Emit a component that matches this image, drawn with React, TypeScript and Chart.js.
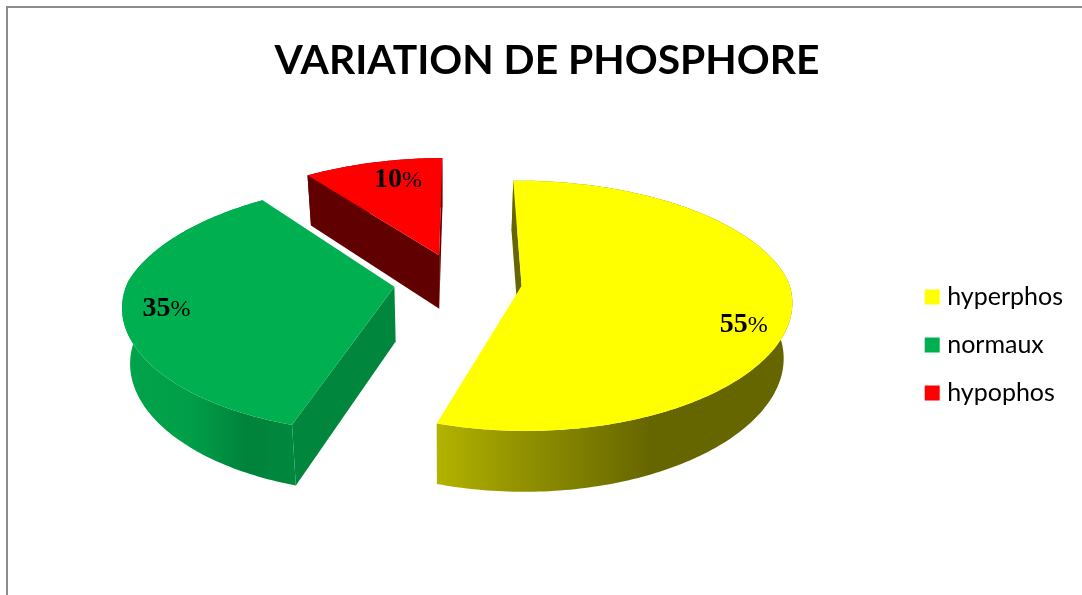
import React, { useEffect, useRef } from "react";
import { Chart, registerables } from "chart.js";

Chart.register(...registerables);

const TITLE = "VARIATION DE PHOSPHORE";
const categories = ["hyperphos", "normaux", "hypophos"];
const values = [55, 35, 10];
const sliceColors = ["#FFFF00", "#00B050", "#FF0000"];

// Shade of the radial wall of each slice, and of the round wall from left to right
const faceShades = [0.4, 0.76, 0.38];
const wallShades = [
  [[0, 0.7], [0.22, 0.58], [0.6, 0.4], [1, 0.4]],
  [[0, 0.93], [0.4, 0.9], [0.72, 0.74], [1, 0.78]],
  [[0, 0.38], [1, 0.38]],
];
const labelRadius = [0.845, 0.84, 0.8];
const labelTurn = [12, -1.3, 4.2];

// 3D view of the pie plane
const VIEW = {
  cx: 0.4233, cy: 0.4733, a: 267, b: 120.6,
  vanish: 33, kFar: 0.165, kNear: 0.125, kY: 0.16,
  explode: 0.24, depthCx: 0.4113, depthScale: 0.975,
};

const shade = (hex: string, m: number) => {
  const n = parseInt(hex.slice(1), 16);
  const c = [(n >> 16) & 255, (n >> 8) & 255, n & 255].map((v) => Math.round(v * m));
  return `rgb(${c[0]},${c[1]},${c[2]})`;
};

const pie3d = {
  id: "pie3d",
  beforeDatasetsDraw(chart: any) {
    const ctx = chart.ctx as CanvasRenderingContext2D;
    const meta = chart.getDatasetMeta(0);
    const Xc = chart.width * VIEW.cx;
    const Yc = chart.height * VIEW.cy;
    type P = [number, number];
    meta.data.forEach((el: any, i: number) => {
      const { startAngle, endAngle } = el.getProps(["startAngle", "endAngle"], true);
      const color = sliceColors[i];
      const mid = (startAngle + endAngle) / 2;
      const ox = Math.cos(mid) * VIEW.explode;
      const oy = Math.sin(mid) * VIEW.explode;
      const project = (r: number, t: number): P => {
        const wx = ox + r * Math.cos(t);
        const wy = oy + r * Math.sin(t);
        const wX = 1 - (wy < 0 ? VIEW.kFar : VIEW.kNear) * wy;
        const wY = 1 - VIEW.kY * wy;
        return [Xc + VIEW.vanish + (-VIEW.vanish + VIEW.a * wx) / wX, Yc + (VIEW.b * wy) / wY];
      };
      const depthX = chart.width * VIEW.depthCx;
      const lower = (p: P): P => [depthX + (p[0] - depthX) * VIEW.depthScale, p[1] + 50 + (p[1] - 172) * 0.042];
      const steps = Math.max(8, Math.ceil(((endAngle - startAngle) * 180) / Math.PI));
      const rim: P[] = [];
      for (let s = 0; s <= steps; s++) rim.push(project(1, startAngle + ((endAngle - startAngle) * s) / steps));
      const apex = project(0, 0);
      const path = (pts: P[]) => {
        ctx.beginPath();
        pts.forEach((p, j) => (j ? ctx.lineTo(p[0], p[1]) : ctx.moveTo(p[0], p[1])));
        ctx.closePath();
      };
      const area = (q: P[]) =>
        q.reduce((acc, p, j) => {
          const n = q[(j + 1) % q.length];
          return acc + p[0] * n[1] - n[0] * p[1];
        }, 0);

      // round wall
      const low = rim.map(lower);
      const xs = rim.concat(low).map((p) => p[0]);
      const minX = Math.min(...xs);
      const maxX = Math.max(...xs);
      const grad = ctx.createLinearGradient(minX, 0, maxX, 0);
      wallShades[i].forEach(([pos, m]) => grad.addColorStop(pos, shade(color, m)));
      ctx.fillStyle = grad;
      path(rim.concat(low.slice().reverse()));
      ctx.fill();

      // radial walls, only when they face the viewer
      const first = rim[0];
      const last = rim[rim.length - 1];
      const startFace = [apex, first, lower(first), lower(apex)];
      const endFace = [apex, last, lower(last), lower(apex)];
      ctx.fillStyle = shade(color, faceShades[i]);
      if (area(startFace) < 0) {
        path(startFace);
        ctx.fill();
      }
      if (area(endFace) > 0) {
        path(endFace);
        ctx.fill();
      }

      // top face
      ctx.fillStyle = color;
      path([apex, ...rim]);
      ctx.fill();

      // data label
      const [lx, ly] = project(labelRadius[i], mid + (labelTurn[i] * Math.PI) / 180);
      const num = String(values[i]);
      ctx.fillStyle = "#000";
      ctx.textBaseline = "alphabetic";
      ctx.textAlign = "left";
      const numFont = "bold 28px 'Liberation Serif'";
      const pctFont = "24px 'Liberation Serif'";
      ctx.font = numFont;
      const w1 = ctx.measureText(num).width;
      ctx.font = pctFont;
      const w2 = ctx.measureText("%").width;
      const x0 = lx - (w1 + w2) / 2;
      ctx.font = numFont;
      ctx.fillText(num, x0, ly + 9);
      ctx.font = pctFont;
      ctx.fillText("%", x0 + w1, ly + 9);
    });
    return false;
  },
};

export default function App() {
  const ref = useRef<HTMLCanvasElement>(null);
  useEffect(() => {
    document.body.style.margin = "0";
    document.body.style.overflow = "hidden";
    const chart = new Chart(ref.current!, {
      type: "pie",
      data: {
        labels: categories,
        datasets: [{ data: values, backgroundColor: sliceColors, borderWidth: 0 }],
      },
      options: {
        responsive: false,
        animation: false,
        rotation: -1,
        layout: { padding: { left: 21, right: 9, top: 0, bottom: 166.5 } },
        plugins: {
          tooltip: { enabled: false },
          title: {
            display: true,
            text: TITLE,
            color: "#000",
            font: { family: "Lato", size: 40.8, weight: "bold", lineHeight: 1 },
            padding: { top: 40, bottom: 20 },
          },
          legend: {
            position: "right",
            align: "end",
            labels: {
              boxWidth: 5,
              boxHeight: 5,
              padding: 23,
              color: "#000",
              font: { family: "Lato", size: 25, lineHeight: 1 },
              generateLabels: (chart: any) =>
                chart.data.labels.map((text: string, i: number) => ({
                  text,
                  fillStyle: sliceColors[i],
                  strokeStyle: sliceColors[i],
                  lineWidth: 10,
                  fontColor: "#000",
                  hidden: false,
                  index: i,
                })),
            },
          },
        },
      } as any,
      plugins: [pie3d],
    });
    return () => chart.destroy();
  }, []);
  return (
    <div style={{ position: "relative", width: 1082, height: 595, overflow: "hidden", background: "#fff" }}>
      <canvas ref={ref} width={1082} height={595} style={{ display: "block" }} />
      <div
        style={{
          position: "absolute",
          left: 6,
          top: 6,
          width: 2000,
          height: 2000,
          border: "2px solid #8c8c8c",
          pointerEvents: "none",
        }}
      />
    </div>
  );
}
